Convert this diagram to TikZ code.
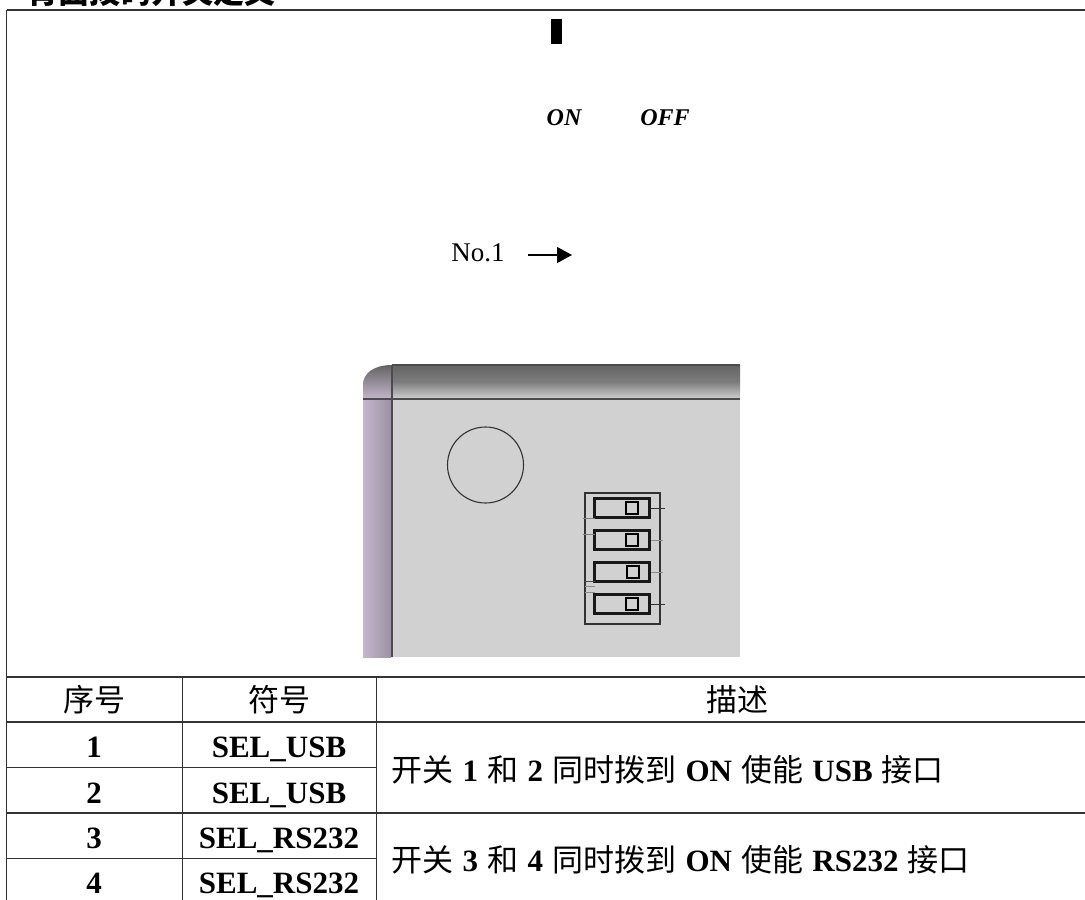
\documentclass[tikz,border=0pt]{standalone}
\usepackage{fontspec}
\setmainfont{Liberation Serif}
\newfontfamily\cjk{Noto Sans CJK SC}
\usetikzlibrary{positioning,arrows.meta}
\definecolor{panelgray}{RGB}{209,209,209}
\definecolor{edgegray}{RGB}{125,125,125}
\definecolor{sidepurple}{RGB}{196,182,204}
\newcommand{\wordgap}{\spaceskip=9.2pt\relax}
\begin{document}
\begin{tikzpicture}[x=1pt,y=-1pt,
    grid/.style={draw=black!80,line width=1.3pt},
    hcell/.style={font=\fontsize{31}{33}\selectfont\cjk},
    bcell/.style={font=\fontsize{31}{33}\selectfont\bfseries,anchor=base},
    dcell/.style={font=\fontsize{31}{33}\selectfont\bfseries,anchor=west},
    swbody/.style={rectangle,draw=black!90,line width=2.2pt,minimum width=55pt,minimum height=19pt,inner sep=0pt},
    swknob/.style={rectangle,draw=black,line width=2.2pt,minimum width=12pt,minimum height=12pt,inner sep=0pt}]
  \useasboundingbox (0,0) rectangle (1085,900);
  %title, cut by the top edge
  \begin{scope}
    \clip (0,0) rectangle (1085,9);
    \node[anchor=west,font=\fontsize{31}{33}\selectfont\bfseries\cjk] (title) at (24,-8) {背面拨码开关定义};
  \end{scope}
  %frame
  \draw[grid] (6.5,10) -- (1085,10) (6.5,10) -- (6.5,900);
  \draw[grid] (6.5,677) -- (1085,677);
  \draw[grid] (6.5,722) -- (1085,722);
  \draw[grid] (6.5,767.5) -- (376.5,767.5);
  \draw[grid] (6.5,813) -- (1085,813);
  \draw[grid] (6.5,858.5) -- (376.5,858.5);
  \draw[grid] (182.5,677) -- (182.5,900);
  \draw[grid] (376.5,677) -- (376.5,900);
  %top marks
  \fill (551,19) rectangle (562,44);
  \node[font=\fontsize{24}{26}\selectfont\bfseries\itshape] (on) at (564,118) {ON};
  \node[font=\fontsize{24}{26}\selectfont\bfseries\itshape] (off) at (665,118) {OFF};
  \node[font=\fontsize{27}{29}\selectfont] (no) at (478,253) {No.1};
  \coordinate (arrowend) at (572,255);
  \draw[line width=1.2pt,-{Triangle[length=15pt,width=16pt]}] (528,255) -- (arrowend);
  %panel
  \fill[panelgray] (363,399) rectangle (740,657);
  \shade[top color=edgegray!120,bottom color=panelgray,middle color=edgegray] (392,365) rectangle (740,399);
  \shade[left color=sidepurple,right color=sidepurple!80!black] (363,399) rectangle (391,657);
  \shade[top color=edgegray!80!black,bottom color=sidepurple] (363,385) .. controls (363,373) and (374,365) .. (392,365) -- (392,399) -- (363,399) -- cycle;
  \draw[black!70,line width=1.2pt] (392,365) -- (740,365);
  \draw[black!70,line width=1.2pt] (363,399) -- (740,399);
  \draw[black!70,line width=1.5pt] (392,365) -- (392,657);
  \node[circle,draw=black!80,line width=1.1pt,minimum size=76pt,inner sep=0pt] (hole) at (485.5,465) {};
  %switches
  \draw[black!80,line width=1.5pt] (585,493) rectangle (660,624);
  \foreach \row/\ypos/\xk in {a/508/632,b/540/632,c/572/633,d/604/632}{
    \node[swbody] (sw\row) at (622,\ypos) {};
    \node[swknob] (kn\row) at (\xk,\ypos) {};
  }
  \draw[black!80,line width=1pt] (swa.east) -- ++(14,0);
  \draw[black!45] (swb.east) -- ++(12,0);
  \draw[black!45] (swc.east) -- ++(12,0);
  \draw[black!80,line width=1pt] (swd.east) -- ++(14,0);
  \draw[black!50] (583,518) -- (595,518) (583,534) -- (595,534);
  \draw[black!70] (585,581) -- (595,581);
  \draw[black!45] (585,586) -- (595,586) (585,592) -- (595,592);
  %table text
  \node[hcell] (h1) at (94,700) {序号};
  \node[hcell] (h2) at (279,700) {符号};
  \node[hcell] (h3) at (737,700) {描述};
  \foreach \num/\ypos/\sym in {1/757/SEL\_USB,2/803/SEL\_USB,3/848/SEL\_RS232,4/893/SEL\_RS232}{
    \node[bcell] (n\num) at (94,\ypos) {\num};
    \node[bcell] (s\num) at (279,\ypos) {\sym};
  }
  \node[dcell] (d1) at (388,770) {\wordgap{\cjk\mdseries 开关} 1 {\cjk\mdseries 和} 2 {\cjk\mdseries 同时拨到} ON {\cjk\mdseries 使能} USB {\cjk\mdseries 接口}};
  \node[dcell] (d2) at (388,860) {\wordgap{\cjk\mdseries 开关} 3 {\cjk\mdseries 和} 4 {\cjk\mdseries 同时拨到} ON {\cjk\mdseries 使能} RS232 {\cjk\mdseries 接口}};
\end{tikzpicture}
\end{document}
